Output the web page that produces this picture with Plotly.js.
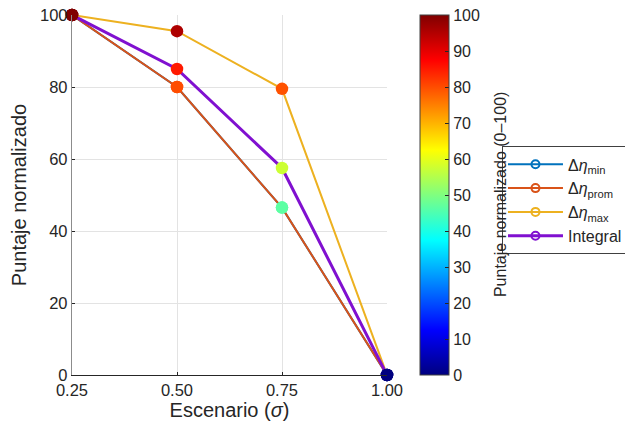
<!DOCTYPE html>
<html><head><meta charset="utf-8">
<script src="https://cdn.plot.ly/plotly-3.0.1.min.js"></script>
<style>html,body{margin:0;padding:0;background:#fff}#g{width:625px;height:433px}</style>
</head><body><div id="g"></div>
<script>
const sigma = [0.25, 0.50, 0.75, 1.00];
const etaMin = [100, 80, 46.5, 0];
const etaProm = [100, 80, 46.5, 0];
const etaMax = [100, 95.5, 79.5, 0];
const integral = [100, 85, 57.5, 0];
const seriesNames = ['Δ<i>η</i><sub>min</sub>', 'Δ<i>η</i><sub>prom</sub>', 'Δ<i>η</i><sub>max</sub>', 'Integral'];
const seriesColors = ['#0072BD', '#D95319', '#EDB120', '#8010D0'];
const seriesWidths = [2, 2, 2, 3];
const xTicks = [0.25, 0.50, 0.75, 1.00];
const xTickText = ['0.25', '0.50', '0.75', '1.00'];
const cbTicks = [0,10,20,30,40,50,60,70,80,90,100];

const jet = [[0,'rgb(0,0,128)'],[0.125,'rgb(0,0,255)'],[0.375,'rgb(0,255,255)'],[0.625,'rgb(255,255,0)'],[0.875,'rgb(255,0,0)'],[1,'rgb(128,0,0)']];
const allSeries = [etaMin, etaProm, etaMax, integral];
const font = 'Liberation Sans, Arial, sans-serif';
const traces = [];
allSeries.forEach((s, i) => {
  traces.push({x: sigma, y: s, type: 'scatter', mode: 'lines+markers', name: seriesNames[i], cliponaxis: false,
    line: {color: seriesColors[i], width: seriesWidths[i]},
    marker: {symbol: 'circle-open', size: 8, color: seriesColors[i], line: {width: 2, color: seriesColors[i]}},
    hoverinfo: 'skip'});
});
allSeries.forEach((s, i) => {
  traces.push({x: sigma, y: s, type: 'scatter', mode: 'markers', showlegend: false, cliponaxis: false,
    marker: {size: 12.5, color: s, colorscale: jet, cmin: 0, cmax: 100, line: {width: 0},
      showscale: i === 0,
      colorbar: {x: 1.105, xanchor: 'left', y: 0.5, yanchor: 'middle', len: 360, lenmode: 'pixels',
        thickness: 29, thicknessmode: 'pixels', outlinewidth: 1, outlinecolor: '#404040',
        tickvals: cbTicks, ticks: 'inside', ticklen: 4, tickcolor: '#262626',
        tickfont: {family: font, size: 16, color: '#262626'}, xpad: 0, ypad: 0}}});
});
const layout = {
  width: 625, height: 433, margin: {l: 72, r: 238, t: 15, b: 58, autoexpand: false},
  paper_bgcolor: '#fff', plot_bgcolor: '#fff',
  font: {family: font, color: '#262626'},
  xaxis: {range: [0.25, 1.0], tickvals: xTicks, ticktext: xTickText, showgrid: true, gridcolor: '#e3e3e3',
    zeroline: false, showline: true, linecolor: '#262626', linewidth: 1, ticks: 'inside', ticklen: 3, tickcolor: '#262626',
    tickfont: {size: 16.5, color: '#262626'},
    title: {text: 'Escenario (<i>σ</i>)', font: {size: 20, color: '#262626'}, standoff: 2}},
  yaxis: {range: [0, 100], tickvals: [0,20,40,60,80,100], showgrid: true, gridcolor: '#e3e3e3',
    zeroline: false, showline: true, linecolor: '#8c8c8c', linewidth: 1.2, ticks: 'inside', ticklen: 3, tickcolor: '#262626',
    tickfont: {size: 16.5, color: '#262626'},
    title: {text: 'Puntaje normalizado', font: {size: 20, color: '#262626'}, standoff: 8}},
  legend: {x: 1.365, xanchor: 'left', y: 0.635, yanchor: 'top', bgcolor: '#fff', bordercolor: '#404040', borderwidth: 1,
    font: {size: 16, color: '#262626'}, tracegroupgap: 0, itemwidth: 55},
  annotations: [{xref: 'paper', yref: 'paper', x: 1.359, y: 0.5, xanchor: 'center', yanchor: 'middle', textangle: -90,
    text: 'Puntaje normalizado (0–100)', showarrow: false, font: {size: 16, color: '#262626'}}],
  showlegend: true
};
Plotly.newPlot('g', traces, layout, {displayModeBar: false, staticPlot: true});
</script></body></html>
